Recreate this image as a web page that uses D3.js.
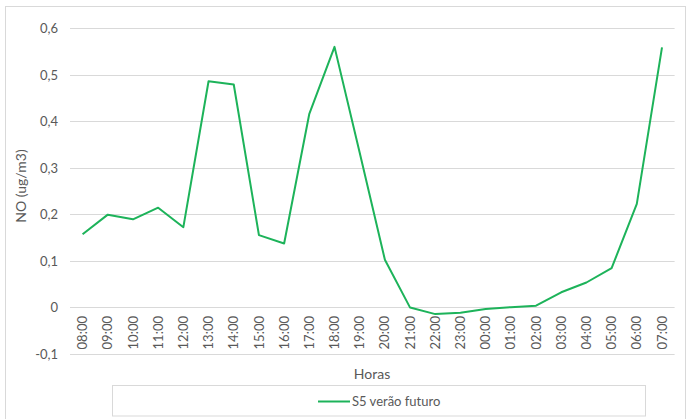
<!DOCTYPE html>
<html><head><meta charset="utf-8">
<script src="https://cdn.jsdelivr.net/npm/d3@7"></script>
<style>body{margin:0;background:#fff}svg{display:block}</style>
</head><body>
<script>
const hours = ["08:00","09:00","10:00","11:00","12:00","13:00","14:00","15:00","16:00","17:00","18:00","19:00","20:00","21:00","22:00","23:00","00:00","01:00","02:00","03:00","04:00","05:00","06:00","07:00"];
const values = [0.157,0.199,0.189,0.214,0.172,0.486,0.479,0.155,0.137,0.416,0.560,0.332,0.102,-0.001,-0.015,-0.012,-0.004,0.000,0.003,0.032,0.053,0.084,0.222,0.559];
const yTicks = [-0.1,0,0.1,0.2,0.3,0.4,0.5,0.6];
const seriesName = "S5 verão futuro";
const xTitle = "Horas";
const yTitle = "NO (ug/m3)";

const W = 686, H = 419;
const font = "Lato, 'Open Sans', sans-serif";
const svg = d3.select("body").append("svg").attr("width", W).attr("height", H);
svg.append("rect").attr("x",5.5).attr("y",6.5).attr("width",W-6).attr("height",H-6)
  .attr("fill","#fff").attr("stroke","#d9d9d9");

const x = d3.scaleBand().domain(hours).range([70, 674.6]);
const y = d3.scaleLinear().domain([-0.1, 0.6]).range([353.6, 28.3]);

// gridlines
svg.append("g").selectAll("line").data(yTicks).join("line")
  .attr("x1", 70).attr("x2", 674.6)
  .attr("y1", d => Math.round(y(d))+0.5).attr("y2", d => Math.round(y(d))+0.5)
  .attr("stroke", "#d9d9d9").attr("stroke-width", 1);

// y axis labels
const fmt = d => d === 0 ? "0" : d3.format(".1f")(d).replace(".", ",").replace("\u2212", "-");
const yAxis = d3.axisLeft(y).tickValues(yTicks).tickFormat(fmt).tickSize(0).tickPadding(0);
const gy = svg.append("g").attr("transform","translate(58,0)").call(yAxis);
gy.select(".domain").remove();
gy.selectAll("text").attr("font-family", font).attr("font-size", 13).attr("fill", "#595959").attr("dy","0.35em");

// x axis labels
const xAxis = d3.axisBottom(x).tickSize(0).tickPadding(0);
const gx = svg.append("g").attr("transform","translate(0,316)").call(xAxis);
gx.select(".domain").remove();
gx.selectAll("text").attr("font-family", font).attr("font-size", 13).attr("fill", "#595959")
  .attr("transform","rotate(-90)").attr("text-anchor","end").attr("x",0).attr("y",0).attr("dy","0.35em");

// line
const line = d3.line().x((d,i) => x(hours[i]) + x.bandwidth()/2).y(d => y(d));
svg.append("path").datum(values).attr("d", line).attr("fill","none")
  .attr("stroke","#1db35a").attr("stroke-width",2).attr("stroke-linejoin","round");

// titles
svg.append("text").attr("x", 372).attr("y", 374).attr("dy","0.35em").attr("text-anchor","middle")
  .attr("font-family", font).attr("font-size", 14).attr("fill","#595959").text(xTitle);
svg.append("text").attr("transform","translate(21,186) rotate(-90)").attr("dy","0.35em").attr("text-anchor","middle")
  .attr("font-family", font).attr("font-size", 14).attr("fill","#595959").text(yTitle);

// legend
svg.append("rect").attr("x",112.5).attr("y",385.5).attr("width",533).attr("height",30.5)
  .attr("fill","#fff").attr("stroke","#d9d9d9");
svg.append("line").attr("x1",318).attr("x2",350).attr("y1",401.5).attr("y2",401.5)
  .attr("stroke","#1db35a").attr("stroke-width",2);
svg.append("text").attr("x",352).attr("y",401.5).attr("dy","0.35em")
  .attr("font-family", font).attr("font-size", 13).attr("fill","#595959").text(seriesName);
</script>
</body></html>
